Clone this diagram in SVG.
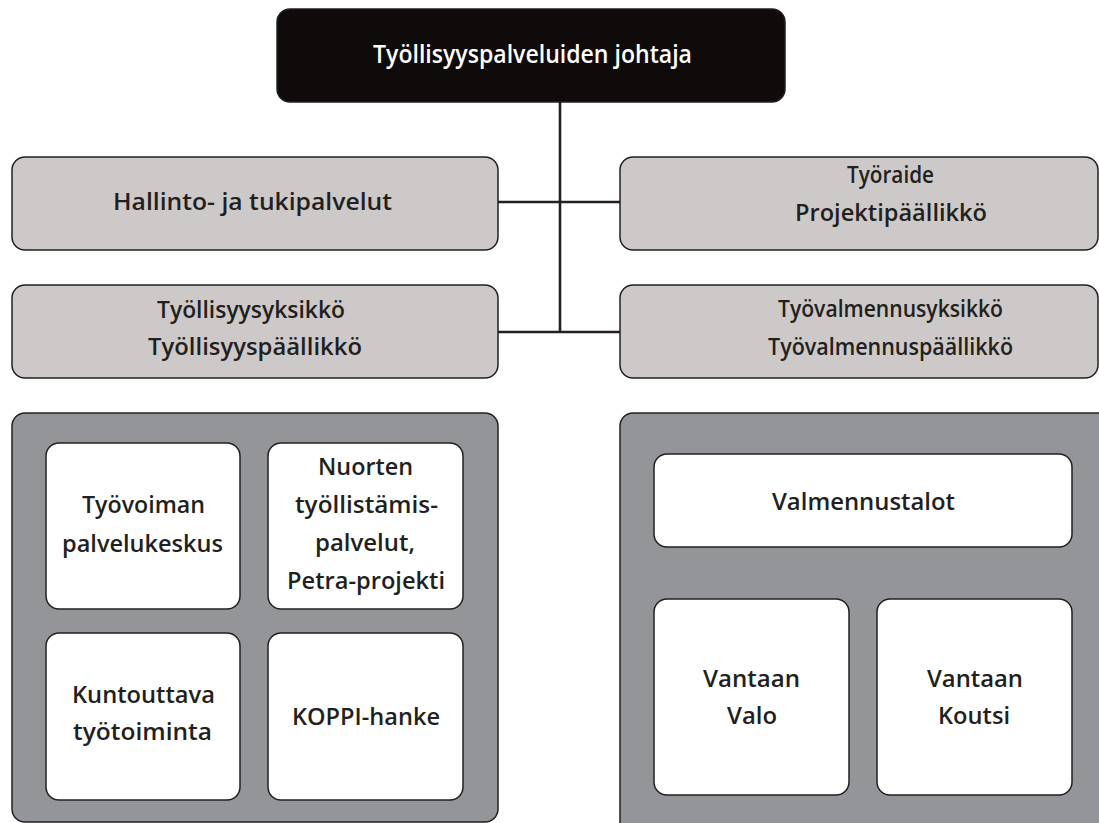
<svg xmlns="http://www.w3.org/2000/svg" width="1099" height="823" viewBox="0 0 1099 823">
<style>
text{font-family:"Open Sans","Noto Sans","DejaVu Sans",sans-serif;font-weight:600;font-size:24px;fill:#231f20;text-anchor:middle}
.head{fill:#0e0b0a;stroke:#231f20;stroke-width:1.5}
.unit{fill:#cdc9c8;stroke:#231f20;stroke-width:1.5}
.cont{fill:#939598;stroke:#231f20;stroke-width:1.5}
.sub{fill:#ffffff;stroke:#231f20;stroke-width:1.5}
.conn{stroke:#231f20;stroke-width:2.6;fill:none}
.w{fill:#ffffff;font-size:25px}
</style>
<rect width="1099" height="823" fill="#ffffff"/>
<g id="connectors">
<line class="conn" x1="560" y1="102" x2="560" y2="332"/>
<line class="conn" x1="498" y1="202" x2="620" y2="202"/>
<line class="conn" x1="498" y1="332" x2="620" y2="332"/>
<line class="conn" x1="752" y1="547" x2="752" y2="599"/>
<line class="conn" x1="975" y1="547" x2="975" y2="599"/>
</g>
<g id="johtaja">
<rect class="head" x="277" y="9" width="508" height="93" rx="13"/>
<text class="w" x="532.5" y="63" textLength="319" lengthAdjust="spacingAndGlyphs">Työllisyyspalveluiden johtaja</text>
</g>
<g id="hallinto">
<rect class="unit" x="12" y="157" width="486" height="93" rx="13"/>
<text x="252.5" y="210" textLength="279" lengthAdjust="spacingAndGlyphs">Hallinto- ja tukipalvelut</text>
</g>
<g id="tyoraide">
<rect class="unit" x="620" y="157" width="478" height="93" rx="13"/>
<text x="890.5" y="183" textLength="87" lengthAdjust="spacingAndGlyphs">Työraide</text>
<text x="891" y="221" textLength="192" lengthAdjust="spacingAndGlyphs">Projektipäällikkö</text>
</g>
<g id="tyollisyysyksikko">
<rect class="unit" x="12" y="285" width="486" height="93" rx="13"/>
<text x="251" y="318" textLength="188" lengthAdjust="spacingAndGlyphs">Työllisyysyksikkö</text>
<text x="255" y="355" textLength="214" lengthAdjust="spacingAndGlyphs">Työllisyyspäällikkö</text>
</g>
<g id="tyovalmennusyksikko">
<rect class="unit" x="620" y="285" width="478" height="93" rx="13"/>
<text x="890.5" y="317" textLength="225" lengthAdjust="spacingAndGlyphs">Työvalmennusyksikkö</text>
<text x="890.5" y="355" textLength="245" lengthAdjust="spacingAndGlyphs">Työvalmennuspäällikkö</text>
</g>
<g id="left-container">
<rect class="cont" x="12" y="413" width="486" height="409" rx="13"/>
</g>
<g id="right-container">
<rect class="cont" x="620" y="413" width="500" height="430" rx="13"/>
</g>
<g id="tyovoiman">
<rect class="sub" x="46" y="443" width="194" height="166" rx="13"/>
<text x="143.5" y="513" textLength="123" lengthAdjust="spacingAndGlyphs">Työvoiman</text>
<text x="142.5" y="552" textLength="161" lengthAdjust="spacingAndGlyphs">palvelukeskus</text>
</g>
<g id="nuorten">
<rect class="sub" x="268" y="443" width="195" height="166" rx="13"/>
<text x="365.5" y="475" textLength="95" lengthAdjust="spacingAndGlyphs">Nuorten</text>
<text x="366.5" y="513" textLength="143" lengthAdjust="spacingAndGlyphs">työllistämis-</text>
<text x="365" y="551" textLength="100" lengthAdjust="spacingAndGlyphs">palvelut,</text>
<text x="366" y="589" textLength="158" lengthAdjust="spacingAndGlyphs">Petra-projekti</text>
</g>
<g id="kuntouttava">
<rect class="sub" x="46" y="633" width="194" height="167" rx="13"/>
<text x="143.5" y="703" textLength="143" lengthAdjust="spacingAndGlyphs">Kuntouttava</text>
<text x="142.5" y="740" textLength="139" lengthAdjust="spacingAndGlyphs">työtoiminta</text>
</g>
<g id="koppi">
<rect class="sub" x="268" y="633" width="195" height="167" rx="13"/>
<text x="366" y="725" textLength="148" lengthAdjust="spacingAndGlyphs">KOPPI-hanke</text>
</g>
<g id="valmennustalot">
<rect class="sub" x="654" y="454" width="418" height="93" rx="13"/>
<text x="863.5" y="510" textLength="183" lengthAdjust="spacingAndGlyphs">Valmennustalot</text>
</g>
<g id="valo">
<rect class="sub" x="654" y="599" width="195" height="196" rx="13"/>
<text x="751.5" y="687" textLength="97" lengthAdjust="spacingAndGlyphs">Vantaan</text>
<text x="752" y="724" textLength="50" lengthAdjust="spacingAndGlyphs">Valo</text>
</g>
<g id="koutsi">
<rect class="sub" x="877" y="599" width="195" height="196" rx="13"/>
<text x="975" y="687" textLength="96" lengthAdjust="spacingAndGlyphs">Vantaan</text>
<text x="974" y="724" textLength="72" lengthAdjust="spacingAndGlyphs">Koutsi</text>
</g>
</svg>
